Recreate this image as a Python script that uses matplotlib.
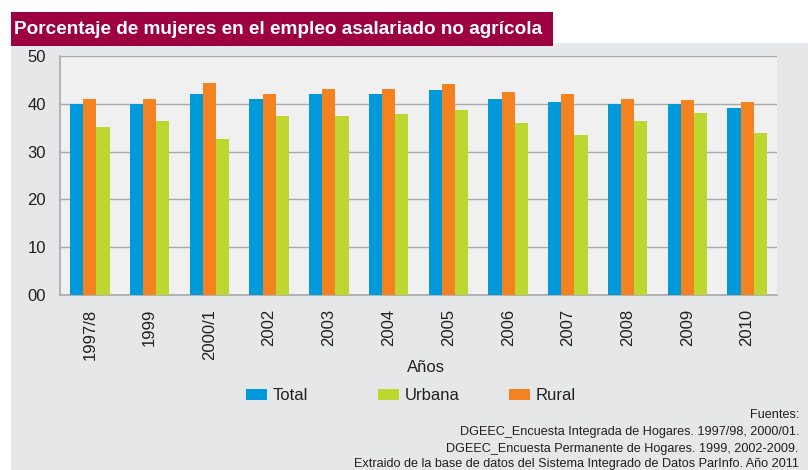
import matplotlib
matplotlib.use("Agg")
import matplotlib.pyplot as plt
from matplotlib.patches import Rectangle, Patch
from matplotlib import font_manager
import numpy as np

# ---- data ----
years = ["1997/8", "1999", "2000/1", "2002", "2003", "2004", "2005",
         "2006", "2007", "2008", "2009", "2010"]
total = [40.0, 40.0, 42.0, 41.0, 42.0, 42.0, 42.8, 41.1, 40.4, 40.0, 40.0, 39.2]
rural = [41.0, 41.0, 44.3, 42.0, 43.0, 43.0, 44.1, 42.4, 42.0, 41.1, 40.7, 40.4]
urbana = [35.1, 36.4, 32.7, 37.5, 37.5, 37.9, 38.7, 36.0, 33.5, 36.4, 38.0, 33.9]
ytick_vals = [0, 10, 20, 30, 40, 50]
ytick_labels = ["00", "10", "20", "30", "40", "50"]
title = "Porcentaje de mujeres en el empleo asalariado no agrícola"
sources = ["Fuentes:",
           "DGEEC_Encuesta Integrada de Hogares. 1997/98, 2000/01.",
           "DGEEC_Encuesta Permanente de Hogares. 1999, 2002-2009.",
           "Extraido de la base de datos del Sistema Integrado de Datos ParInfo. Año 2011"]

plt.rcParams["font.family"] = ["Liberation Sans", "DejaVu Sans"]

W, H = 808, 470
fig = plt.figure(figsize=(W / 100, H / 100), dpi=100, facecolor="white")

def fx(px):
    return px / W

def fy(py):
    return 1 - py / H

C_BLUE = "#0099da"
C_ORANGE = "#f58220"
C_GREEN = "#bed630"
C_OUTER = "#e6e7e8"
C_PLOT = "#f0f0f0"
C_TITLE = "#9c0040"
C_TEXT = "#231f20"

# gray panel
fig.patches.append(Rectangle((fx(11), 0), 1 - fx(11), fy(43), transform=fig.transFigure,
                             facecolor=C_OUTER, edgecolor="none", zorder=-10))
# title box
fig.patches.append(Rectangle((fx(11), fy(46)), fx(553) - fx(11), fy(12) - fy(46),
                             transform=fig.transFigure, facecolor=C_TITLE,
                             edgecolor="none", zorder=-5))
ttl = fig.text(fx(14), fy(29), title, color="white", fontsize=15, fontweight="bold",
               ha="left", va="center", zorder=2)

# axes
ax = fig.add_axes([fx(60), fy(295), fx(777) - fx(60), fy(56) - fy(295)])
ax.set_facecolor(C_PLOT)
x = np.arange(len(years))
bw = 0.22
ax.bar(x - bw, total, bw, color=C_BLUE, zorder=3)
ax.bar(x, rural, bw, color=C_ORANGE, zorder=3)
ax.bar(x + bw, urbana, bw, color=C_GREEN, zorder=3)
ax.set_xlim(-0.5, len(years) - 0.5)
ax.set_ylim(0, 50)
ax.set_yticks(ytick_vals)
ax.set_yticklabels(ytick_labels)
ax.set_xticks(x)
ax.set_xticklabels(years, rotation=90)
ax.tick_params(axis="y", length=0, pad=10, labelsize=12, labelcolor=C_TEXT)
ax.tick_params(axis="x", length=0, pad=10, labelsize=12, labelcolor=C_TEXT)
ax.yaxis.grid(True, color="#a7a9ac", linewidth=1.0, zorder=1)
ax.set_axisbelow(True)
for s in ["top", "right"]:
    ax.spines[s].set_visible(False)
for s in ["left", "bottom"]:
    ax.spines[s].set_color("#a7a9ac")
    ax.spines[s].set_linewidth(1.2)

fig.text(fx(426), fy(367), "Años", fontsize=12, ha="center", va="center", color=C_TEXT)

# legend entries at equal column spacing
entries = [("Total", C_BLUE, 246), ("Urbana", C_GREEN, 378), ("Rural", C_ORANGE, 509)]
for lab, col, px in entries:
    fig.legend(handles=[Patch(facecolor=col, edgecolor="none", label=lab)],
               loc="center left", bbox_to_anchor=(fx(px), fy(396)),
               frameon=False, fontsize=12, borderpad=0, borderaxespad=0,
               handlelength=1.26, handleheight=0.6, handletextpad=0.36,
               labelcolor=C_TEXT)

ys = [415, 432, 449, 464]
for t, yy in zip(sources, ys):
    fig.text(fx(799), fy(yy), t, fontsize=9.1, ha="right", va="center", color=C_TEXT)

# fit title width to the box
r = fig.canvas.get_renderer()
wpx = ttl.get_window_extent(renderer=r).width
ttl.set_fontsize(15 * 533 / wpx)

fig.savefig("out.png", dpi=100, facecolor="white")
